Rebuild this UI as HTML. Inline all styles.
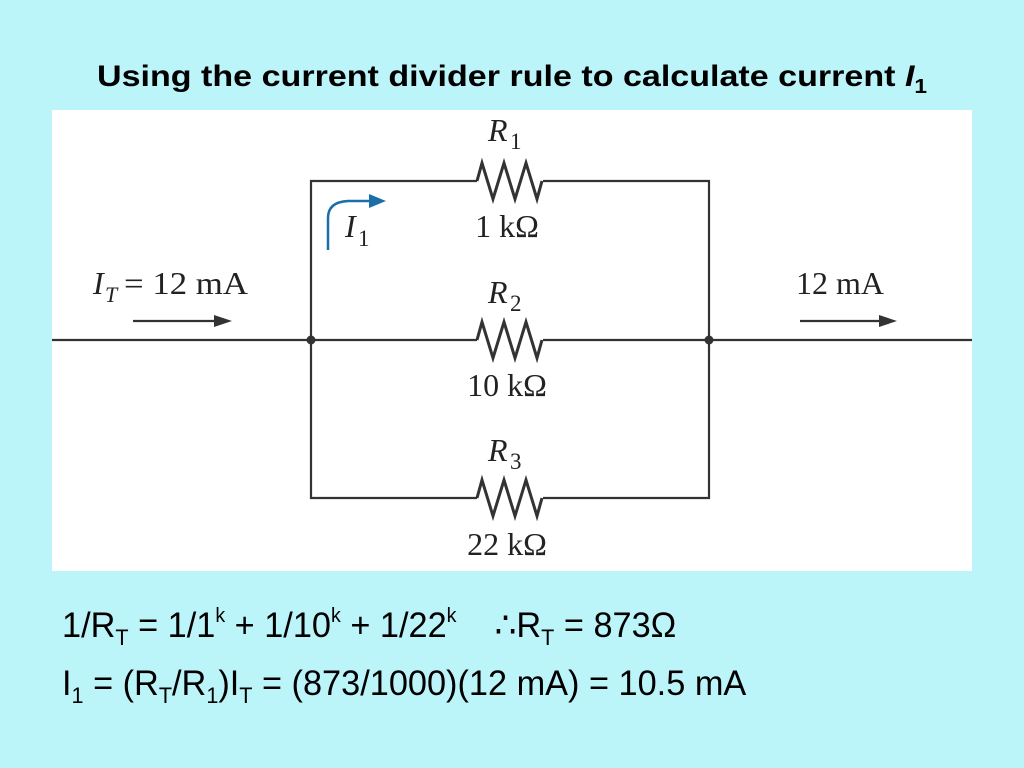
<!DOCTYPE html>
<html><head><style>
body{margin:0;width:1024px;height:768px;background:#bbf4f9;position:relative;overflow:hidden;font-family:"Liberation Sans",sans-serif;}
.t{position:absolute;left:97px;top:60px;font-size:30px;font-weight:bold;color:#000;white-space:nowrap;transform-origin:0 0;transform:scaleX(1.135);}
.eq{position:absolute;left:62px;font-size:35px;color:#000;white-space:nowrap;transform-origin:0 0;transform:scaleX(0.98);}
sub{font-size:22px;vertical-align:-8px;line-height:0}
sup{font-size:20px;vertical-align:15px;line-height:0}
</style></head><body>
<div class="t">Using the current divider rule to calculate current <i>I</i><sub style="font-size:20px;vertical-align:-7px">1</sub></div>
<svg style="position:absolute;left:0;top:0" width="1024" height="768">
<rect x="52" y="110" width="920" height="461" fill="#fff"/>
<g stroke="#333" stroke-width="2.2" fill="none">
<path d="M52 340H477M543 340H972"/>
<path d="M311 340V181H477M543 181H709V340"/>
<path d="M311 340V498H477M543 498H709V340"/>
<path d="M477 181l5 -18l11 36l11 -36l11 36l11 -36l11 36l5 -18" stroke-width="3"/>
<path d="M477 340l5 -18l11 36l11 -36l11 36l11 -36l11 36l5 -18" stroke-width="3"/>
<path d="M477 498l5 -18l11 36l11 -36l11 36l11 -36l11 36l5 -18" stroke-width="3"/>
<path d="M133 321H218M800 321H883"/>
</g>
<polygon points="232,321 214,315 214,327" fill="#333"/>
<polygon points="897,321 879,315 879,327" fill="#333"/>
<circle cx="311" cy="340" r="4.5" fill="#333"/><circle cx="709" cy="340" r="4.5" fill="#333"/>
<path d="M328 250V218Q328 202 348 201H372" stroke="#1a6fa8" stroke-width="2.5" fill="none"/>
<polygon points="386,201 369,194 369,208" fill="#1a6fa8"/>
<g font-family="Liberation Serif,serif" font-size="32" fill="#222">
<text x="488" y="141" font-style="italic">R</text><text x="510" y="149" font-size="23">1</text>
<text x="507" y="237" text-anchor="middle">1 kΩ</text>
<text x="488" y="303" font-style="italic">R</text><text x="510" y="311" font-size="23">2</text>
<text x="507" y="396" text-anchor="middle">10 kΩ</text>
<text x="488" y="461" font-style="italic">R</text><text x="510" y="469" font-size="23">3</text>
<text x="507" y="555" text-anchor="middle">22 kΩ</text>
<text x="93" y="294" font-style="italic">I</text><text x="105" y="302" font-size="22" font-style="italic">T</text><text x="124" y="294" textLength="124" lengthAdjust="spacingAndGlyphs">= 12 mA</text>
<text x="796" y="294">12 mA</text>
<text x="345" y="237" font-style="italic">I</text><text x="358" y="246" font-size="23">1</text>
</g>
</svg>
<div class="eq" style="top:606px">1/R<sub>T</sub> = 1/1<sup>k</sup> + 1/10<sup>k</sup> + 1/22<sup>k</sup> &nbsp;&nbsp;&nbsp;∴R<sub>T</sub> = 873Ω</div>
<div class="eq" style="top:664px">I<sub>1</sub> = (R<sub>T</sub>/R<sub>1</sub>)I<sub>T</sub> = (873/1000)(12 mA) = 10.5 mA</div>
</body></html>
